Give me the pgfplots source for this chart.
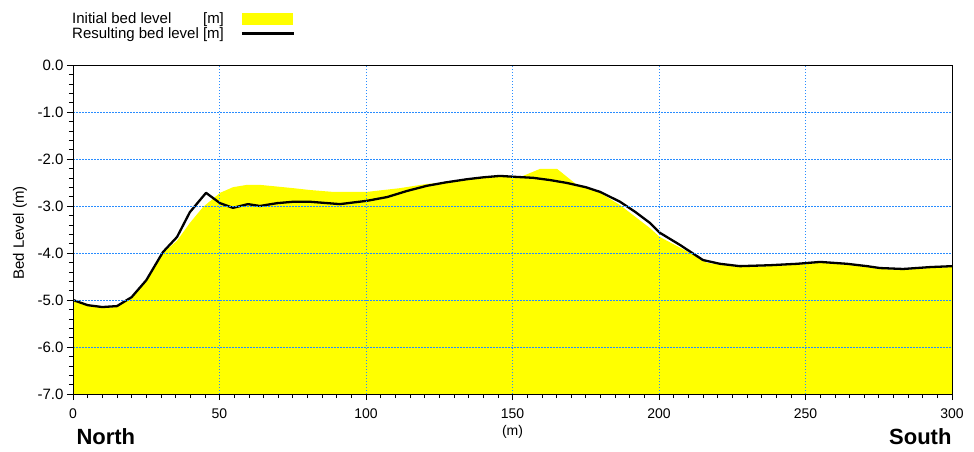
\documentclass[border=0pt]{standalone}
\usepackage{fontspec}
\setmainfont{Liberation Sans}
\usepackage{pgfplots}
\pgfplotsset{compat=1.18}
\definecolor{gridblue}{RGB}{40,140,255}
\definecolor{pureyellow}{RGB}{255,255,0}

\pgfplotstableread{
x y
0 -5.02
5 -5.13
10 -5.17
15 -5.15
20 -4.96
25 -4.60
30.7 -4.00
35.5 -3.74
39.9 -3.36
44.4 -3.02
50.2 -2.72
54.6 -2.60
59.4 -2.55
63.8 -2.55
75.1 -2.62
80.9 -2.66
88.7 -2.70
100.3 -2.70
111.6 -2.62
120.8 -2.53
127 -2.50
134.5 -2.44
140 -2.40
145.7 -2.38
151 -2.39
153.6 -2.36
159.4 -2.21
165.2 -2.21
172 -2.55
179.9 -2.72
186.7 -2.98
196.9 -3.47
200.3 -3.66
210.6 -4.00
216.4 -4.21
220.8 -4.25
227.6 -4.30
237.9 -4.28
247.1 -4.25
255 -4.21
264.2 -4.25
271 -4.30
275.4 -4.34
283.3 -4.36
292.5 -4.32
300 -4.30
300 -7
0 -7
}\initialbed

\pgfplotstableread{
x y
0 -5.00
5 -5.11
10 -5.15
15 -5.13
20 -4.94
25 -4.58
30.7 -3.98
35.5 -3.66
39.9 -3.13
45.4 -2.72
50.2 -2.94
54.6 -3.04
59.7 -2.96
63.8 -3.00
69.6 -2.94
75.1 -2.91
80.9 -2.91
91.1 -2.96
100.3 -2.89
107.2 -2.81
114 -2.68
120.8 -2.57
127 -2.50
134.5 -2.43
140 -2.39
145.7 -2.36
151 -2.38
157.0 -2.40
163 -2.45
168.6 -2.51
175 -2.60
179.9 -2.70
186.7 -2.91
192 -3.13
196.9 -3.36
200.3 -3.57
207.2 -3.83
215.0 -4.15
220.8 -4.23
227.6 -4.28
237.9 -4.26
247.1 -4.23
255 -4.19
264.2 -4.23
271 -4.28
275.4 -4.32
283.3 -4.34
292.5 -4.30
300 -4.28
}\resultbed

\begin{document}
\begin{tikzpicture}
\path (0,0) rectangle (974bp,452bp);
\begin{axis}[
  at={(73bp,58bp)}, anchor=south west,
  scale only axis, width=879bp, height=329bp,
  xmin=0, xmax=300, ymin=-7, ymax=0,
  xtick={0,50,...,300}, ytick={-7,-6,...,0},
  minor x tick num=9, minor y tick num=4,
  tick align=outside, tick pos=left,
  major tick length=6bp, minor tick length=4bp,
  grid=major,
  major grid style={gridblue, dash pattern=on 1.5bp off 1.5bp, line width=0.8bp},
  axis on top,
  /pgf/number format/assume math mode=true,
  yticklabel style={/pgf/number format/fixed, /pgf/number format/fixed zerofill, /pgf/number format/precision=1, font=\fontsize{15bp}{18bp}\selectfont},
  xticklabel style={font=\fontsize{14bp}{16bp}\selectfont, yshift=-5bp},
  axis line style={black, line width=0.8bp},
  tick style={black, line width=0.6bp},
  xlabel={(m)},
  xlabel style={at={(axis description cs:0.5,0)}, anchor=center, yshift=-38bp, font=\fontsize{14bp}{16bp}\selectfont},
  ylabel={Bed Level (m)},
  ylabel style={at={(axis description cs:-0.0603,0.489)}, anchor=center, font=\fontsize{15bp}{18bp}\selectfont},
  legend style={at={(axis description cs:0,1.165)}, anchor=north west, xshift=-3bp, draw=none, fill=none, inner sep=0pt, font=\fontsize{15bp}{16bp}\selectfont, row sep=-2bp},
  legend cell align=left,
  legend plot pos=right,
]
\addplot[fill=pureyellow, draw=none, legend image code/.code={\path[draw=none, fill=none] (0bp,-6bp) rectangle (67bp,6bp); \fill[pureyellow] (16bp,-6bp) rectangle (67bp,6bp);}] table[x=x, y=y] {\initialbed};
\addlegendentry{\rlap{Initial bed level}\hphantom{Resulting bed level }[m]}
\addplot[black, line width=2.3bp, line join=round, legend image code/.code={\path[draw=none, fill=none] (0bp,-6bp) rectangle (68bp,6bp); \draw[black, line width=2.3bp] (16bp,0bp) -- (68bp,0bp);}] table[x=x, y=y] {\resultbed};
\addlegendentry{Resulting bed level [m]}
\end{axis}
\node[anchor=base west, font=\bfseries\fontsize{22bp}{24bp}\selectfont] at (73bp,8bp) {North};
\node[anchor=base east, font=\bfseries\fontsize{22bp}{24bp}\selectfont] at (955bp,8bp) {South};
\end{tikzpicture}
\end{document}
